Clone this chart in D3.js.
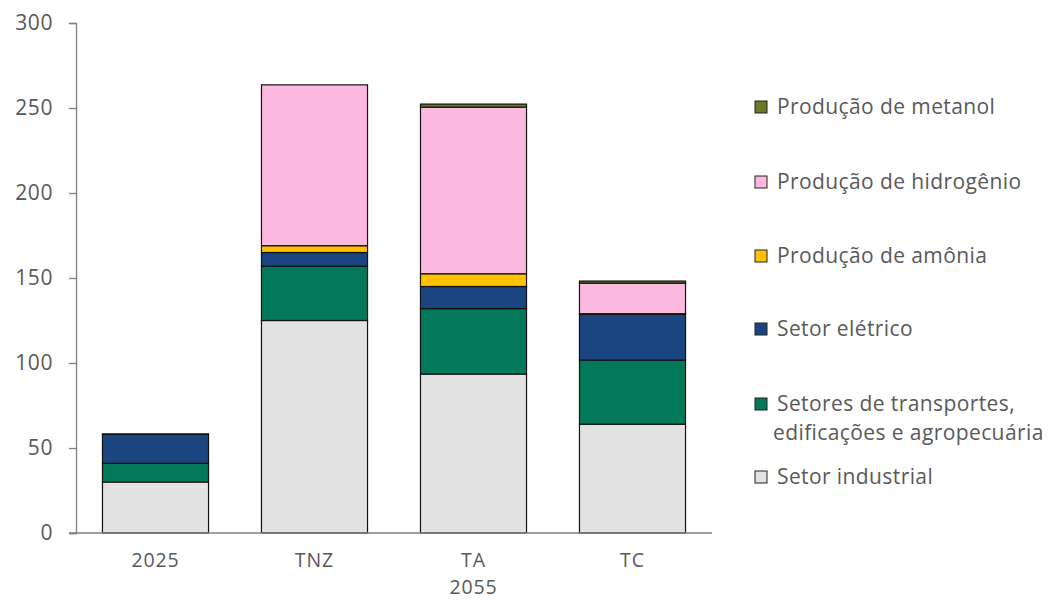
<!DOCTYPE html>
<html>
<head>
<meta charset="utf-8">
<script src="https://cdn.jsdelivr.net/npm/d3@7"></script>
<style>
  body { margin: 0; background: #fff; }
  text { font-family: "Open Sans", sans-serif; fill: #595959; }
</style>
</head>
<body>
<script>
// data
var categories = ["2025", "TNZ", "TA", "TC"];
var groupLabel = "2055";
var seriesNames = ["Setor industrial", "Setores de transportes, edificações e agropecuária",
                   "Setor elétrico", "Produção de amônia", "Produção de hidrogênio", "Produção de metanol"];
var industrial  = [30, 125, 93.5, 64];
var transportes = [11, 32, 38.5, 37.7];
var eletrico    = [17, 8, 13, 27];
var amonia      = [0.3, 4, 7.5, 0.3];
var hidrogenio  = [0, 94.6, 98, 18];
var metanol     = [0, 0, 1.8, 1.2];
var colors = ["#e2e2e2", "#03785a", "#1a4580", "#ffc000", "#fcb9df", "#6b7a22"];
var yTicks = [0, 50, 100, 150, 200, 250, 300];

var W = 1048, H = 600;
var svg = d3.select("body").append("svg").attr("width", W).attr("height", H);

var x = d3.scaleBand().domain(categories).range([76, 712]).paddingInner(0.333).paddingOuter(0.1665);
var y = d3.scaleLinear().domain([0, 300]).range([533, 23]);

var series = [industrial, transportes, eletrico, amonia, hidrogenio, metanol];
var rows = categories.map(function (c, i) {
  var r = { cat: c };
  series.forEach(function (s, k) { r["s" + k] = s[i]; });
  return r;
});
var stack = d3.stack().keys(series.map(function (s, k) { return "s" + k; }))(rows);

// y axis
var yAxis = svg.append("g").attr("transform", "translate(76,0)")
  .call(d3.axisLeft(y).tickValues(yTicks).tickSize(7).tickPadding(16));
yAxis.select(".domain").attr("stroke", "#7f7f7f").attr("stroke-width", 1.3);
yAxis.selectAll(".tick line").attr("stroke", "#7f7f7f").attr("stroke-width", 1.3);
yAxis.selectAll("text").attr("font-size", 21).attr("letter-spacing", 0.6).style("fill", "#595959")
  .attr("font-family", "Open Sans, sans-serif");

// bars
svg.append("g").selectAll("g").data(stack).enter().append("g")
  .attr("fill", function (d, i) { return colors[i]; })
  .selectAll("rect").data(function (d) { return d; }).enter()
  .filter(function (d) { return d[1] - d[0] > 0; })
  .append("rect")
  .attr("x", function (d) { return x(d.data.cat); })
  .attr("width", x.bandwidth())
  .attr("y", function (d) { return y(d[1]); })
  .attr("height", function (d) { return y(d[0]) - y(d[1]); })
  .attr("stroke", "#111").attr("stroke-width", 1.2);

// x axis
var xAxis = svg.append("g").attr("transform", "translate(0,533)")
  .call(d3.axisBottom(x).tickSize(0).tickPadding(20));
xAxis.select(".domain").attr("d", "M69,0H712").attr("stroke", "#7f7f7f").attr("stroke-width", 1.3);
xAxis.selectAll("text").attr("font-size", 19.5).attr("letter-spacing", 0.9).style("fill", "#595959")
  .attr("font-family", "Open Sans, sans-serif");
svg.append("text").attr("x", x("TA") + x.bandwidth() / 2).attr("y", 594)
  .attr("text-anchor", "middle").attr("font-size", 19.5).attr("letter-spacing", 0.9).text(groupLabel);

// legend (top to bottom: reverse stacking order)
var legY = [107, 182, 256, 329, 404, 477];
var legend = svg.append("g");
seriesNames.slice().reverse().forEach(function (name, i) {
  var k = seriesNames.length - 1 - i;
  var g = legend.append("g").attr("transform", "translate(755," + legY[i] + ")");
  g.append("rect").attr("x", 0).attr("y", -6).attr("width", 12).attr("height", 12)
    .attr("fill", colors[k]).attr("stroke", "#222").attr("stroke-width", 1);
  if (k === 1) {
    g.append("text").attr("x", 22).attr("y", 7).attr("font-size", 21).attr("letter-spacing", 0.4).text("Setores de transportes,");
    g.append("text").attr("x", 18).attr("y", 36).attr("font-size", 21).attr("letter-spacing", 0.4).text("edificações e agropecuária");
  } else {
    g.append("text").attr("x", 22).attr("y", 7).attr("font-size", 21).attr("letter-spacing", 0.4).text(name);
  }
});
</script>
</body>
</html>
